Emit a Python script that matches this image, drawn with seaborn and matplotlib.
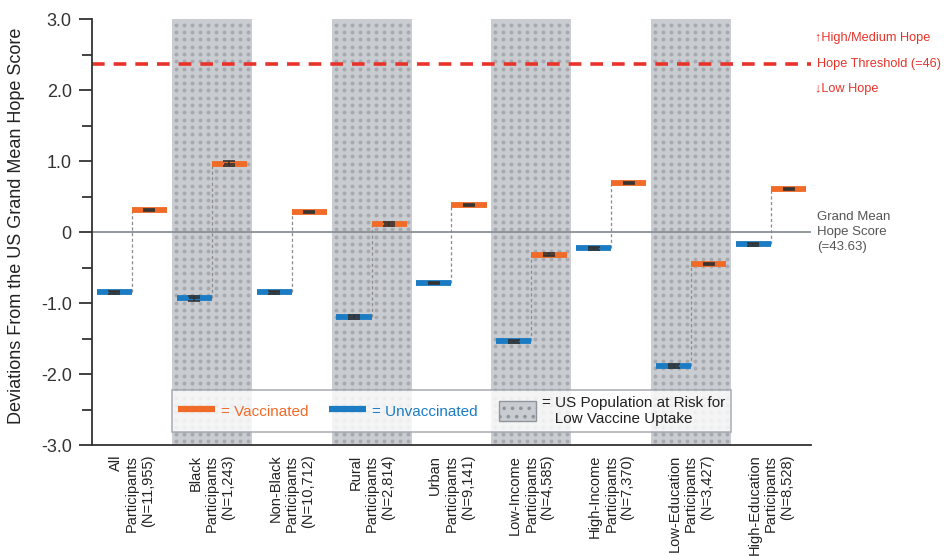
import numpy as np
import pandas as pd
import matplotlib
matplotlib.use("Agg")
import matplotlib.pyplot as plt
import seaborn as sns
from matplotlib.lines import Line2D
from matplotlib.patches import Patch
from matplotlib.ticker import MultipleLocator, FixedLocator

sns.set_theme(style="white")
plt.rcParams['font.family'] = ['Liberation Sans', 'DejaVu Sans']
plt.rcParams['hatch.linewidth'] = 1.4

# data
groups = ['All\nParticipants\n(N=11,955)', 'Black\nParticipants\n(N=1,243)',
          'Non-Black\nParticipants\n(N=10,712)', 'Rural\nParticipants\n(N=2,814)',
          'Urban\nParticipants\n(N=9,141)', 'Low-Income\nParticipants\n(N=4,585)',
          'High-Income\nParticipants\n(N=7,370)', 'Low-Education\nParticipants\n(N=3,427)',
          'High-Education\nParticipants\n(N=8,528)']
unvaccinated = [-0.85, -0.93, -0.85, -1.20, -0.72, -1.54, -0.23, -1.89, -0.17]
vaccinated = [0.31, 0.96, 0.28, 0.11, 0.38, -0.32, 0.69, -0.45, 0.60]
unvac_err = [0.02, 0.035, 0.02, 0.025, 0.015, 0.025, 0.02, 0.025, 0.02]
vac_err = [0.015, 0.035, 0.015, 0.03, 0.015, 0.02, 0.015, 0.02, 0.015]
at_risk = [False, True, False, True, False, True, False, True, False]
threshold = 2.37

ORANGE = '#f06a28'
BLUE = '#1b7cc4'
RED = '#e8332a'
BAND = '#c9cdd1'
DOTS = '#a6aaae'

df = pd.DataFrame({'group': groups, 'unvac': unvaccinated, 'vac': vaccinated,
                   'unvac_err': unvac_err, 'vac_err': vac_err, 'risk': at_risk})
df['pos'] = np.arange(len(df))

fig = plt.figure(figsize=(9.49, 5.56), dpi=100)
ax = fig.add_axes([0.0969, 0.1996, 0.7577, 0.7662])

# shaded at-risk bands with a dotted texture
for _, r in df[df['risk']].iterrows():
    ax.axvspan(r['pos'] - 0.5, r['pos'] + 0.5, facecolor=BAND, linewidth=0, zorder=0)
    gx, gy = np.meshgrid(np.arange(r['pos'] - 0.45, r['pos'] + 0.5, 0.1),
                         np.arange(-2.95, 3.0, 0.103))
    ax.scatter(gx.ravel(), gy.ravel(), s=8, color=DOTS, linewidths=0, zorder=0.5)

# grand mean and threshold
ax.axhline(0, color='#8a9096', lw=1.3, zorder=1)
ax.axhline(threshold, color=RED, lw=2.6, ls=(0, (3.5, 2.5)), zorder=1, clip_on=False)

half = 0.44
# dashed connectors
ax.vlines(df['pos'], df['unvac'], df['vac'], colors='#8a8a8a', lw=0.9,
          linestyles=(0, (2.5, 2)), zorder=2)
# bars
ax.hlines(df['unvac'], df['pos'] - half, df['pos'], colors=BLUE, lw=4.2, zorder=3)
ax.hlines(df['vac'], df['pos'], df['pos'] + half, colors=ORANGE, lw=4.2, zorder=3)
# CI whiskers
ax.errorbar(df['pos'] - half / 2, df['unvac'], yerr=df['unvac_err'], fmt='none',
            ecolor='#333333', elinewidth=1.2, capsize=4, capthick=1.2, zorder=4)
ax.errorbar(df['pos'] + half / 2, df['vac'], yerr=df['vac_err'], fmt='none',
            ecolor='#333333', elinewidth=1.2, capsize=4, capthick=1.2, zorder=4)
ax.hlines(df['unvac'], df['pos'] - half / 2 - 0.07, df['pos'] - half / 2 + 0.07,
          colors='#333333', lw=1.2, zorder=4)
ax.hlines(df['vac'], df['pos'] + half / 2 - 0.07, df['pos'] + half / 2 + 0.07,
          colors='#333333', lw=1.2, zorder=4)

ax.set_xlim(-0.5, len(df) - 0.5)
ax.set_ylim(-3, 3)
ax.set_xticks(df['pos'])
ax.set_xticklabels(df['group'], rotation=90, fontsize=10.5, color='#222222',
                   va='top', ha='center', multialignment='right', linespacing=1.2)
ax.tick_params(axis='x', length=0, pad=7)
ax.yaxis.set_major_locator(FixedLocator([-3, -2, -1, 0, 1, 2, 3]))
ax.set_yticklabels(['-3.0', '-2.0', '-1.0', '0', '1.0', '2.0', '3.0'],
                   fontsize=13, color='#333333')
ax.yaxis.set_minor_locator(MultipleLocator(0.5))
ax.tick_params(axis='y', which='major', direction='out', length=9.5, width=1.3,
               color='#333333', left=True, pad=5)
ax.tick_params(axis='y', which='minor', direction='out', length=7.5, width=1.3,
               color='#333333', left=True)
ax.set_ylabel('Deviations From the US Grand Mean Hope Score', fontsize=13,
              color='#222222')
ax.yaxis.set_label_coords(-0.093, 0.514)

for side in ['top', 'right']:
    ax.spines[side].set_visible(False)
for side in ['left', 'bottom']:
    ax.spines[side].set_color('#333333')
    ax.spines[side].set_linewidth(1.3)

# right-side annotations
ytr = ax.get_yaxis_transform()
ax.text(1.006, threshold + 0.36, '↑High/Medium Hope', transform=ytr,
        color=RED, fontsize=9.2, va='center', ha='left')
ax.text(1.008, threshold, 'Hope Threshold (=46)', transform=ytr,
        color=RED, fontsize=9.2, va='center', ha='left')
ax.text(1.006, threshold - 0.36, '↓Low Hope', transform=ytr,
        color=RED, fontsize=9.2, va='center', ha='left')
ax.text(1.008, 0, 'Grand Mean\nHope Score\n(=43.63)', transform=ytr,
        color='#555555', fontsize=9.5, va='center', ha='left', linespacing=1.3)

# legend
handles = [Line2D([], [], color=ORANGE, lw=4.5, solid_capstyle='butt'),
           Line2D([], [], color=BLUE, lw=4.5, solid_capstyle='butt'),
           Patch(facecolor=BAND, edgecolor='#8f959b', hatch='..', linewidth=1.0)]
labels = ['= Vaccinated', '= Unvaccinated',
          '= US Population at Risk for\n   Low Vaccine Uptake']
leg = ax.legend(handles, labels, loc='lower left', ncol=3, mode='expand',
                bbox_to_anchor=(0.111, 0.0305, 0.778, 0.126), fontsize=11,
                frameon=True, fancybox=False, edgecolor='#9aa0a6',
                handlelength=2.4, handleheight=1.6, borderaxespad=0,
                columnspacing=1.0, handletextpad=0.4)
leg.get_frame().set_linewidth(1.2)
leg.set_zorder(6)
for t, c in zip(leg.get_texts(), [ORANGE, BLUE, '#222222']):
    t.set_color(c)

fig.savefig('out.png', dpi=100)
